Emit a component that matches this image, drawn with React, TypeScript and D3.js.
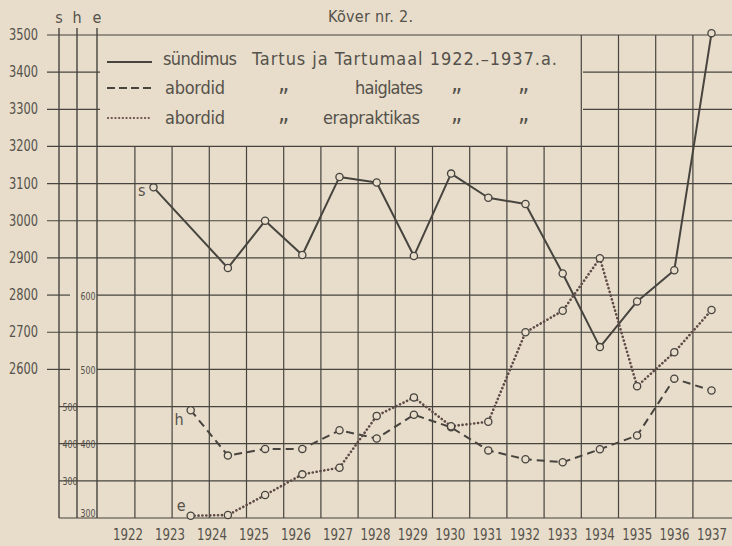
import React, { useEffect, useRef } from 'react';
import * as d3 from 'd3';

// Kõver nr. 2 – sündimus ja abordid Tartus ja Tartumaal 1922–1937
const years = [1922, 1923, 1924, 1925, 1926, 1927, 1928, 1929, 1930, 1931, 1932, 1933, 1934, 1935, 1936, 1937];
const sundimus = [3090, null, 2873, 3000, 2908, 3118, 3103, 2905, 3127, 3062, 3045, 2858, 2660, 2783, 2867, 3505];
const abordidHaiglates = [null, 490, 368, 386, 386, 436, 414, 478, 444, 382, 358, 350, 385, 422, 575, 543];
const abordidErapraktikas = [null, 303, 304, 331, 359, 368, 438, 463, 424, 430, 551, 580, 651, 478, 524, 581];

const sTicks = [3500, 3400, 3300, 3200, 3100, 3000, 2900, 2800, 2700, 2600];
const hTicks = [500, 400, 300];
const eTicks = [600, 500, 400, 300];

const W = 732;
const H = 546;
const PAPER = '#e7ddca';
const INK = '#47443f';
const TEXT = '#55514b';
const FONT = '"Liberation Sans Narrow", "DejaVu Sans Condensed", sans-serif';

const App: React.FC = () => {
  const ref = useRef<SVGSVGElement | null>(null);

  useEffect(() => {
    if (!ref.current) return;
    const svg = d3.select(ref.current);
    svg.selectAll('*').remove();

    const x = d3.scaleLinear().domain([1922, 1937]).range([153.5, 711.5]);
    const step = x(1923) - x(1922);
    // hand lettered year labels drift to the left at the start
    const xLabel = d3.scaleLinear().domain([1922, 1927, 1937]).range([128, 338, 712]);
    const yS = d3.scaleLinear().domain([2200, 3500]).range([518, 35]);
    const yH = d3.scaleLinear().domain([200, 1500]).range([518, 35]);
    const yE = d3.scaleLinear().domain([300, 600]).range([518, 296]);

    const axS = 59, axH = 77, axE = 97;
    const legendRight = 583;
    const legendBottom = yS(3200);
    const bottom = yS(2200);

    svg.append('rect').attr('width', W).attr('height', H).attr('fill', PAPER);

    const grid = svg.append('g').attr('stroke', INK).attr('stroke-width', 1.2);

    // horizontal lines, every 100 births
    d3.range(2200, 3501, 100).forEach(v => {
      const y = yS(v);
      let segs: [number, number][];
      const eLabelHere = eTicks.some(t => t > 300 && Math.abs(yE(t) - y) < 2);
      if (v > 3200 && v < 3500) segs = [[47, 100], [legendRight, W]];
      else if (v >= 2600 && eLabelHere) segs = [[47, 70], [axE, W]];
      else if (v < 2600) segs = [[axS, W]];
      else segs = [[47, W]];
      segs.forEach(([a, b]) => {
        grid.append('line').attr('x1', a).attr('x2', b).attr('y1', y).attr('y2', y);
      });
    });

    // vertical cell boundaries
    years.forEach(yr => {
      const gx = x(yr) - step / 2;
      grid.append('line')
        .attr('x1', gx).attr('x2', gx)
        .attr('y1', gx >= legendRight - 2 ? yS(3500) : legendBottom)
        .attr('y2', bottom);
    });

    // the three scale axes
    [axS, axH, axE].forEach(ax => {
      grid.append('line').attr('x1', ax).attr('x2', ax).attr('y1', 28).attr('y2', bottom)
        .attr('stroke-width', 1.4);
    });

    const txt = svg.append('g').attr('fill', TEXT).style('font-family', FONT);

    // axis letters
    [['s', axS], ['h', axH], ['e', axE]].forEach(([t, ax]) => {
      txt.append('text').attr('x', ax as number).attr('y', 23).attr('text-anchor', 'middle')
        .style('font-size', '16px').text(t as string);
    });

    sTicks.forEach(v => {
      txt.append('text').attr('x', 38).attr('y', yS(v) + 5).attr('text-anchor', 'end')
        .style('font-size', '15px').attr('textLength', 29).attr('lengthAdjust', 'spacingAndGlyphs').text(v);
    });
    hTicks.forEach(v => {
      txt.append('text').attr('x', 70).attr('y', yH(v) + 4).attr('text-anchor', 'middle')
        .style('font-size', '11px').attr('textLength', 15).attr('lengthAdjust', 'spacingAndGlyphs').text(v);
    });
    eTicks.forEach(v => {
      txt.append('text').attr('x', 88).attr('y', Math.min(yE(v) + 4, bottom - 1)).attr('text-anchor', 'middle')
        .style('font-size', '11px').attr('textLength', 15).attr('lengthAdjust', 'spacingAndGlyphs').text(v);
    });

    // year labels, 30px wide, drawn from their right edge
    years.forEach(yr => {
      txt.append('text').attr('x', xLabel(yr) + 15).attr('y', 540).attr('text-anchor', 'end')
        .style('font-size', '15px').attr('textLength', 30).attr('lengthAdjust', 'spacingAndGlyphs').text(yr);
    });

    // title + legend
    txt.append('text').attr('x', 328).attr('y', 22).style('font-size', '16px')
      .attr('textLength', 85).attr('lengthAdjust', 'spacing').text('Kõver nr. 2.');

    const lg = svg.append('g').attr('stroke', INK).attr('fill', 'none');
    lg.append('line').attr('x1', 107).attr('x2', 152).attr('y1', 62).attr('y2', 62).attr('stroke-width', 2);
    lg.append('line').attr('x1', 107).attr('x2', 152).attr('y1', 88).attr('y2', 88).attr('stroke-width', 2)
      .attr('stroke-dasharray', '8,4');
    lg.append('line').attr('x1', 108).attr('x2', 152).attr('y1', 118).attr('y2', 118).attr('stroke-width', 2.2)
      .attr('stroke-linecap', 'round').attr('stroke-dasharray', '0.1,3.6').attr('stroke', '#6b4a48');

    const legendText = (s: string, tx: number, ty: number, len?: number, size = 18) => {
      const t = txt.append('text').attr('x', tx).attr('y', ty).style('font-size', `${size}px`).text(s);
      if (len) t.attr('textLength', len).attr('lengthAdjust', 'spacing');
    };
    legendText('sündimus', 163, 65, 74);
    legendText('Tartus ja Tartumaal 1922.–1937.a.', 252, 65, 305);
    legendText('abordid', 165, 94, 60);
    legendText('abordid', 165, 124, 60);
    legendText('haiglates', 355, 94, 68);
    legendText('erapraktikas', 323, 124, 97);
    [94, 124].forEach(ty => {
      [278, 451, 518].forEach(tx => legendText('„', tx, ty - 3, undefined, 24));
    });

    // series
    type Pt = { year: number; v: number };
    const toPts = (arr: (number | null)[]) =>
      years.map((year, i) => ({ year, v: arr[i] })).filter(d => d.v !== null) as Pt[];

    const series = [
      { pts: toPts(sundimus), y: yS, dash: null, width: 2, cap: 'butt', color: INK, tag: 's', tagDx: -8, tagDy: 9 },
      { pts: toPts(abordidHaiglates), y: yH, dash: '8,5', width: 2, cap: 'butt', color: INK, tag: 'h', tagDx: -7, tagDy: 15 },
      { pts: toPts(abordidErapraktikas), y: yE, dash: '0.1,3.8', width: 2.6, cap: 'round', color: '#5e4a47', tag: 'e', tagDx: -5, tagDy: -5 },
    ];

    const plot = svg.append('g');
    series.forEach(s => {
      const line = d3.line<Pt>().x(d => x(d.year)).y(d => s.y(d.v));
      const p = plot.append('path').datum(s.pts)
        .attr('fill', 'none').attr('stroke', s.color).attr('stroke-width', s.width)
        .attr('stroke-linecap', s.cap).attr('stroke-linejoin', 'round').attr('d', line);
      if (s.dash) p.attr('stroke-dasharray', s.dash);
    });
    series.forEach(s => {
      plot.selectAll(null).data(s.pts).enter().append('circle')
        .attr('cx', d => x(d.year)).attr('cy', d => s.y(d.v)).attr('r', 3.6)
        .attr('fill', PAPER).attr('stroke', INK).attr('stroke-width', 1.3);
      const first = s.pts[0];
      txt.append('text').attr('x', x(first.year) + s.tagDx).attr('y', s.y(first.v) + s.tagDy)
        .attr('text-anchor', 'end').style('font-size', '16px').text(s.tag);
    });
  }, []);

  return (
    <svg ref={ref} width={W} height={H} style={{ position: 'absolute', left: 0, top: 0 }} />
  );
};

export default App;
